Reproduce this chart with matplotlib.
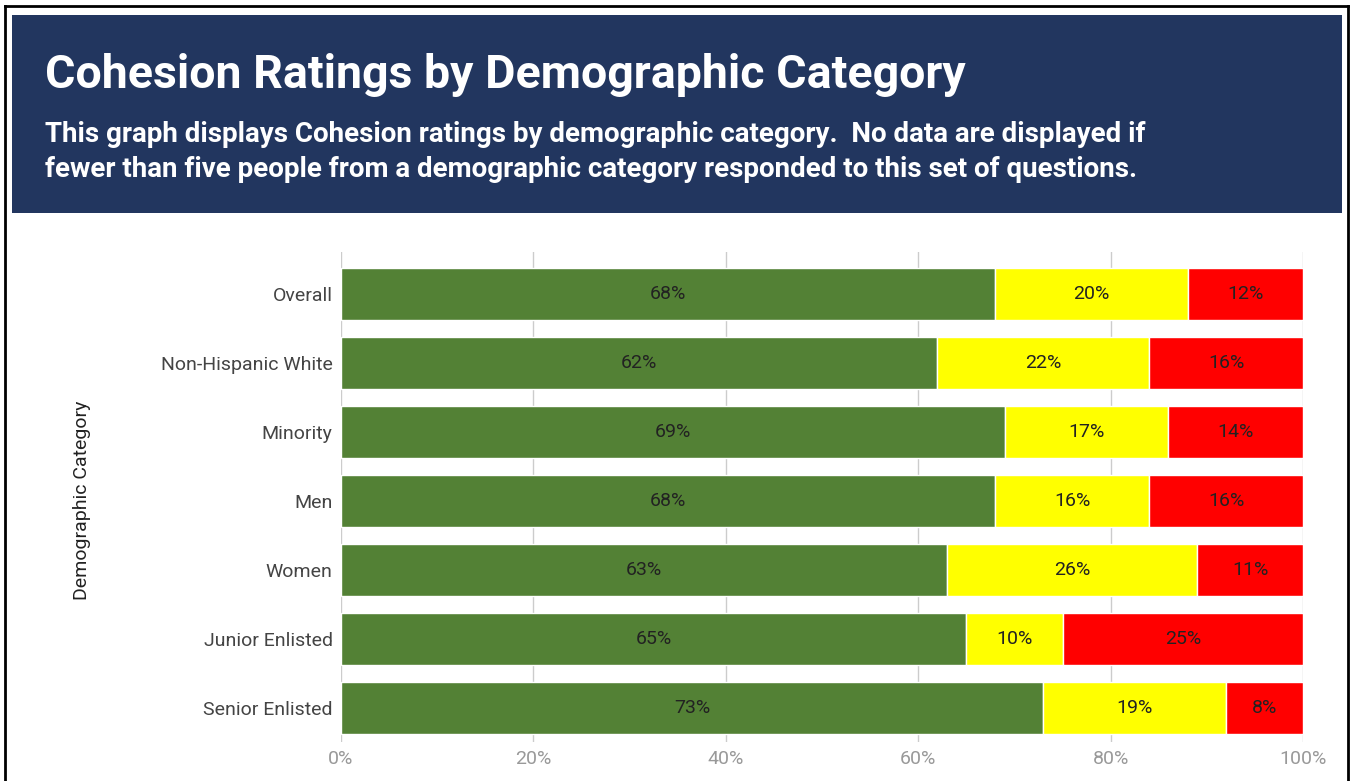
import matplotlib.pyplot as plt
from matplotlib.patches import Rectangle
from matplotlib.lines import Line2D
import numpy as np

plt.rcParams['font.family'] = ['Roboto', 'DejaVu Sans']

categories = ["Overall", "Non-Hispanic White", "Minority", "Men", "Women",
              "Junior Enlisted", "Senior Enlisted"]
high = [68, 62, 69, 68, 63, 65, 73]
medium = [20, 22, 17, 16, 26, 10, 19]
low = [12, 16, 14, 16, 11, 25, 8]

colors = ["#538135", "#FFFF00", "#FF0000"]

fig = plt.figure(figsize=(13.51, 7.81), dpi=100)

# outer frame and header box
fig.add_artist(Line2D([5/1351, 5/1351], [0, 1 - 6/781], color="black", lw=2))
fig.add_artist(Line2D([5/1351, 1348/1351], [1 - 6/781, 1 - 6/781], color="black", lw=2))
fig.add_artist(Line2D([1348/1351, 1348/1351], [0, 1 - 6/781], color="black", lw=2))
fig.add_artist(Rectangle((12/1351, 1 - 213/781), 1330/1351, 198/781,
                         facecolor="#22365F", edgecolor="none"))

fig.text(45/1351, 1 - 88/781, "Cohesion Ratings by Demographic Category",
         color="white", fontsize=33.5, fontweight="bold", va="baseline")
fig.text(45/1351, 1 - 142/781,
         "This graph displays Cohesion ratings by demographic category.  No data are displayed if",
         color="white", fontsize=20, fontweight="bold", va="baseline")
fig.text(45/1351, 1 - 177/781,
         "fewer than five people from a demographic category responded to this set of questions.",
         color="white", fontsize=20, fontweight="bold", va="baseline")

ax = fig.add_axes([341/1351, 1 - 742/781, 962/1351, 490/781])
y = np.arange(len(categories))
left = np.zeros(len(categories))
for vals, c in zip([high, medium, low], colors):
    bars = ax.barh(y, vals, left=left, height=0.75, color=c, edgecolor="white", linewidth=1, zorder=2)
    for b, v in zip(bars, vals):
        ax.text(b.get_x() + b.get_width()/2, b.get_y() + b.get_height()/2, f"{v}%",
                ha="center", va="center", fontsize=14, color="#222222", zorder=3)
    left += np.array(vals)

ax.set_xlim(0, 100)
ax.set_ylim(6.49, -0.61)
ax.set_xticks([0, 20, 40, 60, 80, 100])
ax.set_xticklabels(["0%", "20%", "40%", "60%", "80%", "100%"], color="#999999", fontsize=14)
ax.set_yticks(y)
ax.set_yticklabels(categories, color="#444444", fontsize=14)
ax.tick_params(axis="y", length=0, pad=6)
ax.tick_params(axis="x", length=0, pad=6)
ax.grid(axis="x", color="#CCCCCC", lw=1, zorder=0)
for s in ax.spines.values():
    s.set_visible(False)
ax.set_ylabel("Demographic Category", fontsize=14, color="#222222")
ax.yaxis.set_label_coords(-0.26, 0.494)

fig.savefig("out.png", dpi=100)
